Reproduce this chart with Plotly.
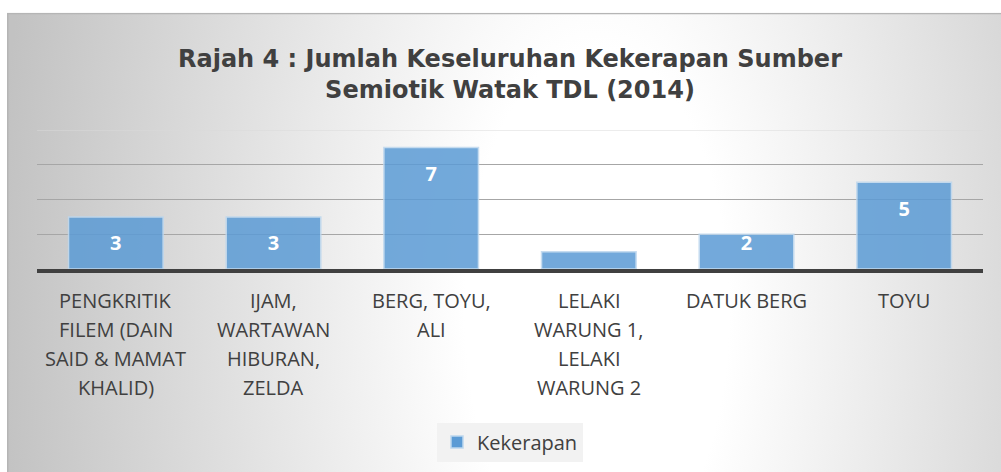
import base64
import plotly.graph_objects as go

# ---- data ----
categories = [
    "PENGKRITIK<br>FILEM (DAIN<br>SAID & MAMAT<br>KHALID)",
    "IJAM,<br>WARTAWAN<br>HIBURAN,<br>ZELDA",
    "BERG, TOYU,<br>ALI",
    "LELAKI<br>WARUNG 1,<br>LELAKI<br>WARUNG 2",
    "DATUK BERG",
    "TOYU",
]
values = [3, 3, 7, 1, 2, 5]
series_name = "Kekerapan"
title_text = "Rajah 4 : Jumlah Keseluruhan Kekerapan Sumber<br>Semiotik Watak TDL (2014)"
grid_vals = [2, 4, 6]
y_max = 8

# ---- styling ----
W, H = 1001, 472
ML, MR, MT, MB = 37, 18, 130, 202
TXT = "#404040"

# background gradient as svg image
svg = f"""<svg xmlns='http://www.w3.org/2000/svg' width='1000' height='470' viewBox='0 0 1000 470' preserveAspectRatio='none'>
<defs>
<radialGradient id='g' gradientUnits='userSpaceOnUse' cx='590' cy='300' r='600'
 gradientTransform='translate(590 300) scale(1 2) translate(-590 -300)'>
<stop offset='0' stop-color='#ffffff'/>
<stop offset='0.22' stop-color='#ffffff'/>
<stop offset='1' stop-color='#c2c2c2'/>
</radialGradient>
</defs>
<rect x='0' y='0' width='1000' height='470' fill='url(#g)'/>
<path d='M0.75 470 L0.75 0.75 L1000 0.75' fill='none' stroke='#b5b5b5' stroke-width='1.5'/>
</svg>"""
src = "data:image/svg+xml;base64," + base64.b64encode(svg.encode()).decode()

pw = W - ML - MR
ph = H - MT - MB
img_x = (7 - ML) / pw
img_y = (H - MB - 12) / ph
img_sx = (1000) / pw
img_sy = (470) / ph

labels = [str(v) if v >= 2 else "" for v in values]
label_y = [max(v - 1.65, 1.39) for v in values]

fig = go.Figure()
fig.add_trace(go.Bar(
    x=categories, y=values, name=series_name,
    marker=dict(color="#5b9bd5", opacity=0.85,
                line=dict(color="#bdd7ee", width=1.5)),
    hoverinfo="x+y",
))
fig.add_trace(go.Scatter(
    x=categories, y=label_y, mode="text", text=labels,
    textfont=dict(family="Open Sans", size=20, color="white", weight="bold"),
    showlegend=False, hoverinfo="skip",
))

annotations = []
for cat in categories:
    for i, line in enumerate(cat.split("<br>")):
        annotations.append(dict(
            x=cat, xref="x", y=0, yref="paper", yanchor="middle",
            yshift=-(31 + 29 * i), showarrow=False, text=line,
            font=dict(family="Open Sans", size=20, color=TXT),
        ))

fig.update_layout(
    width=W, height=H,
    margin=dict(l=ML, r=MR, t=MT, b=MB),
    paper_bgcolor="white", plot_bgcolor="rgba(0,0,0,0)",
    title=dict(text=title_text, x=0.5, xref="paper", xanchor="center",
               y=1 - 67 / H, yref="container", yanchor="middle",
               font=dict(family="DejaVu Sans", size=24, color=TXT, weight="bold")),
    bargap=0.4,
    xaxis=dict(showticklabels=False, showgrid=False, showline=True,
               linecolor="#404040", linewidth=3.5, ticks="", fixedrange=True),
    yaxis=dict(range=[0, y_max], tickvals=grid_vals, showticklabels=False,
               showgrid=True, gridcolor="#a6a6a6", gridwidth=1,
               zeroline=False, showline=False, fixedrange=True),
    showlegend=True,
    legend=dict(orientation="h", x=0.5, xanchor="center", y=(H - MB - 442) / ph,
                yanchor="middle", bgcolor="#f2f2f2",
                font=dict(family="Open Sans", size=20, color=TXT)),
    shapes=[dict(type="line", xref="paper", yref="y", x0=0, x1=1, y0=y_max, y1=y_max,
                 line=dict(color="#d9d9d9", width=1), layer="below")],
    images=[dict(source=src, xref="paper", yref="paper", x=img_x, y=img_y,
                 sizex=img_sx, sizey=img_sy, xanchor="left", yanchor="top",
                 sizing="stretch", layer="below")],
    annotations=annotations,
)

fig.write_html("out.html", config={"displayModeBar": False},
               post_script="document.body.style.margin='0';document.body.style.overflow='hidden';")
